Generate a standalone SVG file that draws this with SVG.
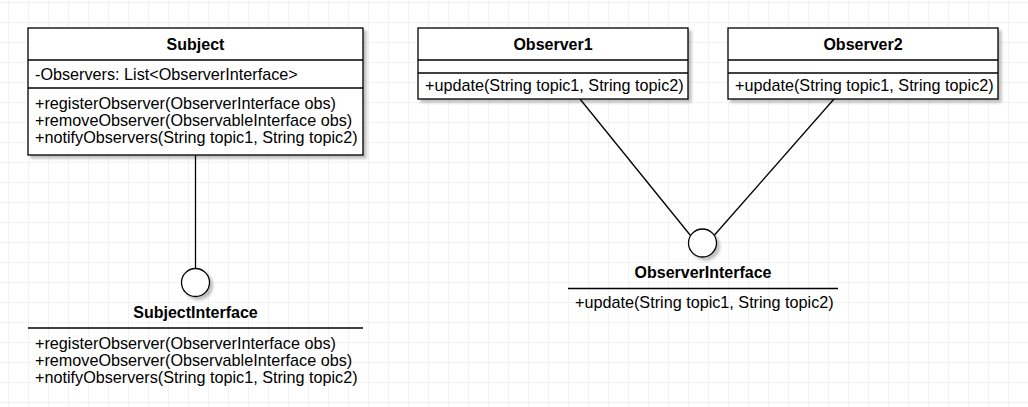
<svg xmlns="http://www.w3.org/2000/svg" width="1028" height="407" viewBox="0 0 1028 407">
<style>
.box{fill:#fff;stroke:#000;stroke-width:1.3}
.div{stroke:#000;stroke-width:1.3;fill:none}
.conn{stroke:#000;stroke-width:1.3;fill:none}
.circ{fill:#fff;stroke:#000;stroke-width:1.3}
text{font-family:"Liberation Sans",Arial,Helvetica,sans-serif;font-size:16.2px;fill:#000}
.title{font-weight:bold;text-anchor:middle;font-size:16px}
</style>
<defs>
<pattern id="grid" x="8" y="2" width="20" height="20" patternUnits="userSpaceOnUse">
<path d="M0 0H20M0 0V20" fill="none" stroke="#e8e8e8" stroke-width="1"/>
</pattern>
<filter id="sh" x="-10%" y="-10%" width="130%" height="140%">
<feGaussianBlur in="SourceAlpha" stdDeviation="1.5"/>
<feOffset dx="3" dy="3" result="b"/>
<feComponentTransfer><feFuncA type="linear" slope="0.25"/></feComponentTransfer>
<feMerge><feMergeNode/><feMergeNode in="SourceGraphic"/></feMerge>
</filter>
</defs>
<rect width="1028" height="407" fill="#fff"/>
<rect width="1028" height="407" fill="url(#grid)"/>

<g id="connectors">
<line class="conn" x1="195.5" y1="155" x2="195.5" y2="268.5"/>
<line class="conn" x1="580" y1="99" x2="690.5" y2="235.5"/>
<line class="conn" x1="834" y1="99" x2="714.5" y2="235"/>
</g>

<g id="subject">
<rect class="box" x="28" y="28" width="335" height="127" filter="url(#sh)"/>
<line class="div" x1="28" y1="60" x2="363" y2="60"/>
<line class="div" x1="28" y1="88" x2="363" y2="88"/>
<text class="title" x="195.5" y="49.5">Subject</text>
<text x="35" y="79.5">-Observers: List&lt;ObserverInterface&gt;</text>
<text x="35" y="109">+registerObserver(ObserverInterface obs)</text>
<text x="35" y="125.8">+removeObserver(ObservableInterface obs)</text>
<text x="35" y="142.6">+notifyObservers(String topic1, String topic2)</text>
</g>

<g id="observer1">
<rect class="box" x="418" y="28" width="270" height="71" filter="url(#sh)"/>
<line class="div" x1="418" y1="60" x2="688" y2="60"/>
<line class="div" x1="418" y1="73" x2="688" y2="73"/>
<text class="title" x="553" y="49.5">Observer1</text>
<text x="425" y="91">+update(String topic1, String topic2)</text>
</g>

<g id="observer2">
<rect class="box" x="728" y="28" width="270" height="71" filter="url(#sh)"/>
<line class="div" x1="728" y1="60" x2="998" y2="60"/>
<line class="div" x1="728" y1="73" x2="998" y2="73"/>
<text class="title" x="863" y="49.5">Observer2</text>
<text x="735" y="91">+update(String topic1, String topic2)</text>
</g>

<g id="subjectInterface">
<circle class="circ" cx="195.5" cy="282.5" r="14" filter="url(#sh)"/>
<text class="title" x="195.5" y="317.5">SubjectInterface</text>
<line class="div" x1="28" y1="328" x2="363" y2="328"/>
<text x="35" y="349">+registerObserver(ObserverInterface obs)</text>
<text x="35" y="365.8">+removeObserver(ObservableInterface obs)</text>
<text x="35" y="382.6">+notifyObservers(String topic1, String topic2)</text>
</g>

<g id="observerInterface">
<circle class="circ" cx="702.5" cy="243" r="14" filter="url(#sh)"/>
<text class="title" x="703" y="278">ObserverInterface</text>
<line class="div" x1="568" y1="288.5" x2="838" y2="288.5"/>
<text x="575" y="308">+update(String topic1, String topic2)</text>
</g>
</svg>
